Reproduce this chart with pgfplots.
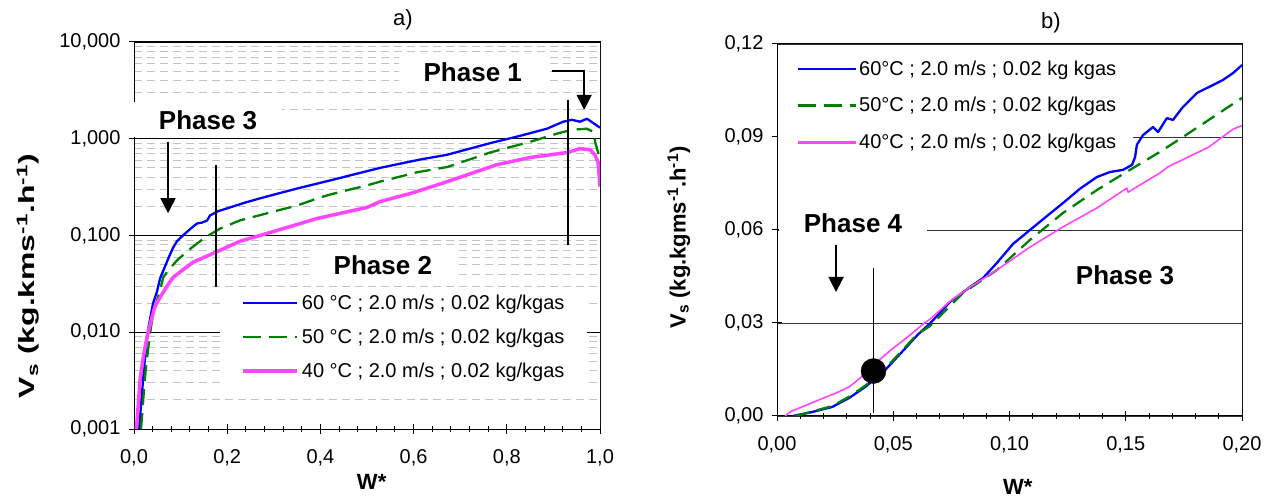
\documentclass[border=0pt]{standalone}
\usepackage{fontspec}
\setmainfont{Liberation Sans}
\usepackage{graphicx}
\usepackage{pgfplots}
\pgfplotsset{compat=1.18}
\usetikzlibrary{arrows.meta}
\definecolor{cblue}{RGB}{0,0,255}
\definecolor{cgreen}{RGB}{0,128,0}
\definecolor{cpink}{RGB}{255,70,255}
\definecolor{mgrid}{RGB}{195,195,195}
\definecolor{bgray}{RGB}{128,128,128}
\tikzset{phase/.style={font=\fontsize{26}{31}\selectfont\bfseries, fill=white, inner xsep=25pt, inner ysep=8pt},
  arr/.style={line width=1.5pt, -{Triangle[width=15pt,length=15pt]}}}
\begin{document}
\begin{tikzpicture}
\useasboundingbox (0pt,0pt) rectangle (1274pt,497pt);
\node[font=\fontsize{22}{26}\selectfont] at (403pt,477pt) {a)};
\node[font=\fontsize{22}{26}\selectfont] at (1051pt,474pt) {b)};
% ---------------- panel a ----------------
\begin{axis}[
  at={(134pt,68pt)}, anchor=south west,
  scale only axis, width=466pt, height=387pt,
  ymode=log, xmin=0, xmax=1, ymin=0.001, ymax=10,
  xtick={0,0.2,0.4,0.6,0.8,1}, xticklabels={{0,0},{0,2},{0,4},{0,6},{0,8},{1,0}},
  minor x tick num=4,
  ytick={0.001,0.01,0.1,1,10}, yticklabels={{0,001},{0,010},{0,100},{1,000},{10,000}},
  ymajorgrids, yminorgrids, yminorticks=false,
  major grid style={black, line width=0.8pt},
  minor grid style={mgrid, line width=0.8pt, dash pattern=on 8pt off 5pt},
  tick align=center, major tick length=10pt, minor tick length=6pt,
  tick style={black, line width=1pt}, tick pos=left,
  axis line style={black, line width=1pt},
  ticklabel style={font=\fontsize{20}{24}\selectfont},
  xticklabel shift=12pt, yticklabel shift=5pt,
  xlabel={\textbf{W*}},
  xlabel style={font=\fontsize{22}{26}\selectfont, at={(axis description cs:0.51,0)}, anchor=center, yshift=-53pt},
  ylabel={\scalebox{1.45}[1]{\textbf{V\textsubscript{s} (kg.kms\textsuperscript{-1}.h\textsuperscript{-1})}}},
  ylabel style={font=\fontsize{22}{26}\selectfont, at={(axis description cs:-0.227,0.395)}, anchor=center},
  legend style={at={(rel axis cs:0.185,0.3643)}, anchor=north west, fill=white, draw=none,
    font=\fontsize{20}{24}\selectfont, inner xsep=21pt, inner ysep=5pt, row sep=14pt, column sep=1pt,
    nodes={inner sep=2pt}},
  legend cell align=left,
  legend image code/.code={\draw[#1] (0pt,0pt) -- (54pt,0pt);},
]
\addplot[cblue, line width=2.3pt, line join=round, forget plot] coordinates {
(0.011,0.001) (0.016,0.002) (0.021,0.004) (0.026,0.007) (0.031,0.0112) (0.041,0.02) (0.049,0.026)
(0.056,0.036) (0.063,0.0435) (0.075,0.06) (0.084,0.075) (0.092,0.087) (0.105,0.1) (0.12,0.116)
(0.135,0.133) (0.146,0.136) (0.157,0.143) (0.163,0.161) (0.18,0.178) (0.206,0.195) (0.24,0.22)
(0.277,0.247) (0.35,0.306) (0.42,0.37) (0.528,0.5) (0.614,0.61) (0.672,0.683) (0.764,0.9)
(0.828,1.07) (0.886,1.27) (0.921,1.5) (0.94,1.57) (0.957,1.5) (0.972,1.61) (0.985,1.46) (1.0,1.3)};
\addplot[cgreen, line width=2.3pt, dash pattern=on 16pt off 8pt, forget plot] coordinates {
(0.015,0.001) (0.018,0.0015) (0.022,0.0028) (0.026,0.0045) (0.03,0.0065) (0.034,0.0095) (0.041,0.0156)
(0.052,0.0235) (0.063,0.037) (0.071,0.042) (0.092,0.0552) (0.124,0.075) (0.152,0.095) (0.185,0.118)
(0.227,0.143) (0.292,0.173) (0.35,0.204) (0.399,0.247) (0.427,0.27) (0.5,0.33) (0.528,0.36)
(0.607,0.45) (0.672,0.51) (0.764,0.72) (0.85,0.93) (0.908,1.13) (0.94,1.24) (0.972,1.27)
(0.985,1.18) (0.99,0.91) (0.995,0.75) (1.0,0.6)};
\addplot[cpink, line width=3.5pt, line join=round, forget plot] coordinates {
(0.005,0.001) (0.008,0.0015) (0.013,0.0032) (0.02,0.0056) (0.03,0.01) (0.045,0.0185) (0.056,0.0229)
(0.071,0.03) (0.084,0.0369) (0.099,0.042) (0.127,0.053) (0.178,0.068) (0.227,0.087) (0.285,0.105)
(0.35,0.13) (0.393,0.15) (0.5,0.195) (0.528,0.224) (0.599,0.277) (0.672,0.36) (0.779,0.54)
(0.85,0.64) (0.929,0.72) (0.957,0.79) (0.979,0.77) (0.989,0.68) (0.996,0.57) (1.0,0.32)};
\addlegendimage{cblue, line width=2.3pt}
\addlegendentry{60 °C ; 2.0 m/s ; 0.02 kg/kgas}
\addlegendimage{cgreen, line width=2.3pt, dash pattern=on 18pt off 8pt}
\addlegendentry{50 °C ; 2.0 m/s ; 0.02 kg/kgas}
\addlegendimage{cpink, line width=3.5pt}
\addlegendentry{40 °C ; 2.0 m/s ; 0.02 kg/kgas}
\draw[black, line width=1.5pt] (axis cs:0.176,0.0295) -- (axis cs:0.176,0.54);
\draw[black, line width=1.5pt] (axis cs:0.931,0.08) -- (axis cs:0.931,2.53);
\draw[arr] (axis cs:0.073,0.93) -- (axis cs:0.073,0.17);
\draw[arr] (axis cs:0.897,5.04) -| (axis cs:0.966,1.99);
\node[phase] at (axis cs:0.159,1.57) {Phase 3};
\node[phase] at (axis cs:0.727,4.93) {Phase 1};
\node[phase] at (axis cs:0.534,0.049) {Phase 2};
\draw[bgray, line width=1pt] (rel axis cs:1,0) -- (rel axis cs:1,1);
\end{axis}
% ---------------- panel b ----------------
\begin{axis}[
  at={(777pt,81pt)}, anchor=south west,
  scale only axis, width=465pt, height=372pt,
  xmin=0, xmax=0.2, ymin=0, ymax=0.12,
  xtick={0,0.05,0.1,0.15,0.2}, xticklabels={{0,00},{0,05},{0,10},{0,15},{0,20}},
  minor x tick num=4,
  ytick={0,0.03,0.06,0.09,0.12}, yticklabels={{0,00},{0,03},{0,06},{0,09},{0,12}},
  ymajorgrids,
  major grid style={black!80, line width=0.8pt},
  tick align=center, major tick length=10pt, minor tick length=6pt,
  tick style={black, line width=1pt}, tick pos=left,
  axis line style={black, line width=1pt},
  ticklabel style={font=\fontsize{20}{24}\selectfont},
  xticklabel shift=12pt, yticklabel shift=5pt,
  xlabel={\textbf{W*}},
  xlabel style={font=\fontsize{22}{26}\selectfont, at={(axis description cs:0.518,0)}, anchor=center, yshift=-71pt},
  ylabel={\textbf{V\textsubscript{s} (kg.kgms\textsuperscript{-1}.h\textsuperscript{-1})}},
  ylabel style={font=\fontsize{22}{26}\selectfont, at={(axis description cs:-0.211,0.48)}, anchor=center},
  legend style={at={(rel axis cs:0,0.969)}, anchor=north west, fill=none, draw=none,
    font=\fontsize{20}{24}\selectfont, inner xsep=19pt, inner ysep=3pt, row sep=16.7pt, column sep=0pt,
    nodes={inner sep=2pt}},
  legend cell align=left,
  legend image code/.code={\draw[#1] (0pt,0pt) -- (58pt,0pt);},
]
\fill[white] (axis cs:0.0005,0.0832) rectangle (axis cs:0.1531,0.1165);
\addplot[cblue, line width=2.3pt, line join=round, forget plot] coordinates {
(0.0068,0.0) (0.0152,0.0013) (0.0237,0.0029) (0.031,0.0058) (0.038,0.0094) (0.0465,0.0148)
(0.0533,0.0203) (0.0605,0.0262) (0.066,0.030) (0.0744,0.0368) (0.083,0.0416) (0.0886,0.0445)
(0.0946,0.0494) (0.1015,0.0555) (0.1088,0.06) (0.1161,0.0645) (0.123,0.0687) (0.1303,0.0733)
(0.1376,0.0771) (0.1432,0.0787) (0.1488,0.0794) (0.1527,0.081) (0.154,0.0835) (0.1548,0.0875)
(0.1574,0.0906) (0.1617,0.0932) (0.1639,0.0916) (0.1677,0.0961) (0.1703,0.0955) (0.1746,0.0997)
(0.1806,0.1042) (0.1849,0.1058) (0.1892,0.1074) (0.1918,0.1084) (0.1961,0.1106) (0.2,0.1132)};
\addplot[cgreen, line width=2.3pt, dash pattern=on 14pt off 8pt, forget plot] coordinates {
(0.008,0.0) (0.015,0.0014) (0.0237,0.0032) (0.031,0.0062) (0.038,0.0098) (0.0465,0.0152)
(0.0533,0.0207) (0.0605,0.0265) (0.0658,0.029) (0.0744,0.0355) (0.08,0.0397) (0.0946,0.0471)
(0.1088,0.0568) (0.123,0.0655) (0.1376,0.0729) (0.1518,0.0794) (0.1647,0.0852) (0.1746,0.09)
(0.2,0.1026)};
\addplot[cpink, line width=1.6pt, line join=round, forget plot] coordinates {
(0.0035,0.0) (0.006,0.0015) (0.0097,0.0026) (0.018,0.0052) (0.0254,0.0074) (0.031,0.0094)
(0.0364,0.0126) (0.0423,0.017) (0.049,0.0213) (0.0562,0.0255) (0.0634,0.030) (0.0658,0.0312)
(0.0744,0.037) (0.083,0.0416) (0.0946,0.0471) (0.1088,0.0545) (0.123,0.061) (0.1376,0.0671)
(0.1505,0.0735) (0.151,0.0722) (0.1647,0.0784) (0.168,0.0803) (0.1858,0.0868) (0.1961,0.0925)
(0.2,0.0937)};
\addplot[only marks, mark=*, mark size=12.5pt, black, forget plot] coordinates {(0.0415,0.0145)};
\addlegendimage{cblue, line width=2.3pt}
\addlegendentry{60°C ; 2.0 m/s ; 0.02 kg kgas}
\addlegendimage{cgreen, line width=2.3pt, dash pattern=on 18pt off 8pt}
\addlegendentry{50°C ; 2.0 m/s ; 0.02 kg/kgas}
\addlegendimage{cpink, line width=3pt}
\addlegendentry{40°C ; 2.0 m/s ; 0.02 kg/kgas}
\draw[black, line width=1.5pt] (axis cs:0.0415,0.001) -- (axis cs:0.0415,0.0477);
\draw[arr] (axis cs:0.0254,0.0552) -- (axis cs:0.0254,0.040);
\node[phase] at (axis cs:0.0327,0.0623) {Phase 4};
\node[phase, inner xsep=6pt] at (axis cs:0.1497,0.0455) {Phase 3};
\draw[bgray, line width=1pt] (rel axis cs:1,0) -- (rel axis cs:1,1);
\end{axis}
\end{tikzpicture}
\end{document}
